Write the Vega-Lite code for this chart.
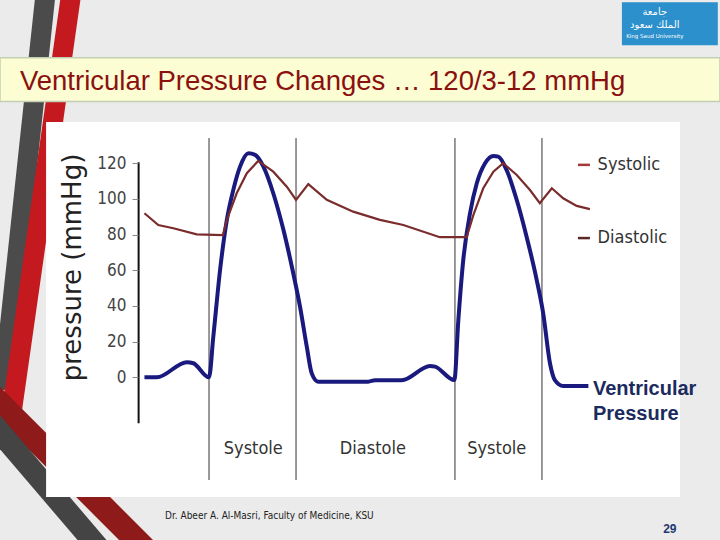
{
  "$schema": "https://vega.github.io/schema/vega-lite/v6.json",
  "width": 542,
  "height": 375,
  "autosize": {"type": "none"},
  "padding": {"left": 138, "right": 40, "top": 122, "bottom": 43},
  "background": "#ebebeb",
  "view": {"stroke": null},
  "config": {
    "axisX": {"disable": true},
    "axisY": {
      "grid": false,
      "domain": false,
      "tickColor": "#888888",
      "tickSize": 6,
      "labelPadding": 6,
      "labelFont": "Liberation Sans Narrow, DejaVu Sans Condensed, sans-serif",
      "labelFontSize": 17,
      "labelColor": "#444444",
      "titleFont": "DejaVu Sans, sans-serif",
      "titleFontSize": 26,
      "titleFontWeight": "normal",
      "titleColor": "#222222",
      "titleAngle": -90,
      "titleX": -66,
      "titleY": 145,
      "titleAlign": "center",
      "titleBaseline": "middle"
    }
  },
  "datasets": {
    "pressure": [
      {"series": "Ventricular", "t": -210, "v": 0},
      {"series": "Ventricular", "t": -170, "v": 0},
      {"series": "Ventricular", "t": -72, "v": 8.5},
      {"series": "Ventricular", "t": -51, "v": 7.9},
      {"series": "Ventricular", "t": 0, "v": 0},
      {"series": "Ventricular", "t": 14, "v": 22.8},
      {"series": "Ventricular", "t": 36, "v": 60.2},
      {"series": "Ventricular", "t": 58, "v": 88.2},
      {"series": "Ventricular", "t": 79, "v": 105},
      {"series": "Ventricular", "t": 101, "v": 118},
      {"series": "Ventricular", "t": 128, "v": 125.5},
      {"series": "Ventricular", "t": 150, "v": 124.6},
      {"series": "Ventricular", "t": 177, "v": 118},
      {"series": "Ventricular", "t": 209, "v": 103.1},
      {"series": "Ventricular", "t": 242, "v": 82.6},
      {"series": "Ventricular", "t": 274, "v": 58.3},
      {"series": "Ventricular", "t": 296, "v": 39.6},
      {"series": "Ventricular", "t": 318, "v": 17.2},
      {"series": "Ventricular", "t": 334, "v": 2.3},
      {"series": "Ventricular", "t": 355, "v": -2.4},
      {"series": "Ventricular", "t": 518, "v": -2.4},
      {"series": "Ventricular", "t": 540, "v": -1.6},
      {"series": "Ventricular", "t": 627, "v": -1.6},
      {"series": "Ventricular", "t": 719, "v": 6.4},
      {"series": "Ventricular", "t": 735, "v": 6.0},
      {"series": "Ventricular", "t": 798, "v": -1.5},
      {"series": "Ventricular", "t": 811, "v": 32.1},
      {"series": "Ventricular", "t": 827, "v": 65.7},
      {"series": "Ventricular", "t": 849, "v": 91.9},
      {"series": "Ventricular", "t": 871, "v": 108.7},
      {"series": "Ventricular", "t": 898, "v": 119.9},
      {"series": "Ventricular", "t": 925, "v": 124},
      {"series": "Ventricular", "t": 941, "v": 123.6},
      {"series": "Ventricular", "t": 968, "v": 116.1},
      {"series": "Ventricular", "t": 1001, "v": 99.3},
      {"series": "Ventricular", "t": 1033, "v": 78.8},
      {"series": "Ventricular", "t": 1066, "v": 54.5},
      {"series": "Ventricular", "t": 1087, "v": 35.9},
      {"series": "Ventricular", "t": 1109, "v": 7.9},
      {"series": "Ventricular", "t": 1125, "v": -1.5},
      {"series": "Ventricular", "t": 1152, "v": -4.8},
      {"series": "Ventricular", "t": 1234, "v": -4.8},
      {"series": "Aortic", "t": -210, "v": 91.9},
      {"series": "Aortic", "t": -165, "v": 85.3},
      {"series": "Aortic", "t": -116, "v": 83.5},
      {"series": "Aortic", "t": -40, "v": 80.1},
      {"series": "Aortic", "t": 45, "v": 79.7},
      {"series": "Aortic", "t": 58, "v": 88.2},
      {"series": "Aortic", "t": 90, "v": 103.1},
      {"series": "Aortic", "t": 123, "v": 114.3},
      {"series": "Aortic", "t": 160, "v": 121.2},
      {"series": "Aortic", "t": 209, "v": 115.2},
      {"series": "Aortic", "t": 253, "v": 106.8},
      {"series": "Aortic", "t": 283, "v": 99.4},
      {"series": "Aortic", "t": 323, "v": 108.2},
      {"series": "Aortic", "t": 383, "v": 99.4},
      {"series": "Aortic", "t": 469, "v": 92.8},
      {"series": "Aortic", "t": 556, "v": 88.2},
      {"series": "Aortic", "t": 632, "v": 85.3},
      {"series": "Aortic", "t": 751, "v": 78.5},
      {"series": "Aortic", "t": 838, "v": 78.5},
      {"series": "Aortic", "t": 860, "v": 91},
      {"series": "Aortic", "t": 892, "v": 105.9},
      {"series": "Aortic", "t": 925, "v": 115.2},
      {"series": "Aortic", "t": 957, "v": 119.9},
      {"series": "Aortic", "t": 1001, "v": 113.3},
      {"series": "Aortic", "t": 1044, "v": 104.9},
      {"series": "Aortic", "t": 1076, "v": 97.5},
      {"series": "Aortic", "t": 1115, "v": 105.9},
      {"series": "Aortic", "t": 1152, "v": 100.3},
      {"series": "Aortic", "t": 1196, "v": 96},
      {"series": "Aortic", "t": 1239, "v": 94.2}
    ],
    "phaseLines": [{"t": 0}, {"t": 283}, {"t": 800}, {"t": 1083}],
    "phaseLabels": [
      {"t": 144, "phase": "Systole"},
      {"t": 533, "phase": "Diastole"},
      {"t": 936, "phase": "Systole"}
    ],
    "legendItems": [
      {"item": "Systolic", "v": 119},
      {"item": "Diastolic", "v": 78}
    ],
    "logoArabic": [
      {"label": "جامعة", "v": 204.5},
      {"label": "الملك سعود", "v": 197.5}
    ]
  },
  "layer": [
    {
      "data": {"values": [{}]},
      "mark": {"type": "rule", "color": "#4b4b4b", "strokeWidth": 20},
      "encoding": {
        "x": {"datum": -527, "type": "quantitative", "scale": {"domain": [-231, 1532], "nice": false, "zero": false}},
        "x2": {"datum": -670},
        "y": {"datum": 222.5, "type": "quantitative", "scale": {"domain": [-67, 143], "nice": false, "zero": false}, "axis": {"title": "pressure (mmHg)", "values": [0, 20, 40, 60, 80, 100, 120], "zindex": 1}},
        "y2": {"datum": -7}
      }
    },
    {
      "data": {"values": [{}]},
      "mark": {"type": "rule", "color": "#c41a1f", "strokeWidth": 20},
      "encoding": {
        "x": {"datum": -442, "type": "quantitative", "scale": {"domain": [-231, 1532], "nice": false, "zero": false}},
        "x2": {"datum": -641},
        "y": {"datum": 222.5, "type": "quantitative", "scale": {"domain": [-67, 143], "nice": false, "zero": false}, "axis": {"title": "pressure (mmHg)", "values": [0, 20, 40, 60, 80, 100, 120], "zindex": 1}},
        "y2": {"datum": -18.3}
      }
    },
    {
      "data": {"values": [{}]},
      "mark": {"type": "rule", "color": "#8e1a1a", "strokeWidth": 24},
      "encoding": {
        "x": {"datum": -712, "type": "quantitative", "scale": {"domain": [-231, 1532], "nice": false, "zero": false}},
        "x2": {"datum": -127},
        "y": {"datum": -9.3, "type": "quantitative", "scale": {"domain": [-67, 143], "nice": false, "zero": false}, "axis": {"title": "pressure (mmHg)", "values": [0, 20, 40, 60, 80, 100, 120], "zindex": 1}},
        "y2": {"datum": -110.1}
      }
    },
    {
      "data": {"values": [{}]},
      "mark": {"type": "rule", "color": "#444444", "strokeWidth": 22},
      "encoding": {
        "x": {"datum": -712, "type": "quantitative", "scale": {"domain": [-231, 1532], "nice": false, "zero": false}},
        "x2": {"datum": -322},
        "y": {"datum": -24.3, "type": "quantitative", "scale": {"domain": [-67, 143], "nice": false, "zero": false}, "axis": {"title": "pressure (mmHg)", "values": [0, 20, 40, 60, 80, 100, 120], "zindex": 1}},
        "y2": {"datum": -102.9}
      }
    },
    {
      "data": {"values": [{}]},
      "mark": {"type": "rect", "fill": "#ffffff"},
      "encoding": {
        "x": {"datum": -530, "type": "quantitative", "scale": {"domain": [-231, 1532], "nice": false, "zero": false}},
        "x2": {"datum": 1532},
        "y": {"datum": 143, "type": "quantitative", "scale": {"domain": [-67, 143], "nice": false, "zero": false}, "axis": {"title": "pressure (mmHg)", "values": [0, 20, 40, 60, 80, 100, 120], "zindex": 1}},
        "y2": {"datum": -67}
      }
    },
    {
      "data": {"values": [{}]},
      "mark": {"type": "rect", "fill": "#fcfdd2", "stroke": "#c2cfb5", "strokeWidth": 1.5},
      "encoding": {
        "x": {"datum": -680, "type": "quantitative", "scale": {"domain": [-231, 1532], "nice": false, "zero": false}},
        "x2": {"datum": 1662},
        "y": {"datum": 179, "type": "quantitative", "scale": {"domain": [-67, 143], "nice": false, "zero": false}, "axis": {"title": "pressure (mmHg)", "values": [0, 20, 40, 60, 80, 100, 120], "zindex": 1}},
        "y2": {"datum": 154.5}
      }
    },
    {
      "data": {"values": [{"label": "Ventricular Pressure Changes … 120/3-12 mmHg"}]},
      "mark": {"type": "text", "font": "Liberation Sans, Arial, sans-serif", "fontSize": 27.5, "color": "#8b1010", "align": "left", "baseline": "middle"},
      "encoding": {
        "x": {"datum": -615, "type": "quantitative", "scale": {"domain": [-231, 1532], "nice": false, "zero": false}},
        "y": {"datum": 165.4, "type": "quantitative", "scale": {"domain": [-67, 143], "nice": false, "zero": false}, "axis": {"title": "pressure (mmHg)", "values": [0, 20, 40, 60, 80, 100, 120], "zindex": 1}},
        "text": {"field": "label"}
      }
    },
    {
      "data": {"values": [{}]},
      "mark": {"type": "rect", "fill": "#2b90cc"},
      "encoding": {
        "x": {"datum": 1343, "type": "quantitative", "scale": {"domain": [-231, 1532], "nice": false, "zero": false}},
        "x2": {"datum": 1655},
        "y": {"datum": 210, "type": "quantitative", "scale": {"domain": [-67, 143], "nice": false, "zero": false}, "axis": {"title": "pressure (mmHg)", "values": [0, 20, 40, 60, 80, 100, 120], "zindex": 1}},
        "y2": {"datum": 186}
      }
    },
    {
      "data": {"name": "logoArabic"},
      "mark": {"type": "text", "font": "DejaVu Sans, sans-serif", "fontSize": 10, "color": "#ffffff", "align": "center", "baseline": "middle"},
      "encoding": {
        "x": {"datum": 1450, "type": "quantitative", "scale": {"domain": [-231, 1532], "nice": false, "zero": false}},
        "y": {"field": "v", "type": "quantitative", "scale": {"domain": [-67, 143], "nice": false, "zero": false}, "axis": {"title": "pressure (mmHg)", "values": [0, 20, 40, 60, 80, 100, 120], "zindex": 1}},
        "text": {"field": "label"}
      }
    },
    {
      "data": {"values": [{"label": "King Saud University"}]},
      "mark": {"type": "text", "font": "DejaVu Sans, sans-serif", "fontSize": 5.5, "color": "#ffffff", "align": "center", "baseline": "middle"},
      "encoding": {
        "x": {"datum": 1450, "type": "quantitative", "scale": {"domain": [-231, 1532], "nice": false, "zero": false}},
        "y": {"datum": 191, "type": "quantitative", "scale": {"domain": [-67, 143], "nice": false, "zero": false}, "axis": {"title": "pressure (mmHg)", "values": [0, 20, 40, 60, 80, 100, 120], "zindex": 1}},
        "text": {"field": "label"}
      }
    },
    {
      "data": {"name": "phaseLines"},
      "mark": {"type": "rule", "color": "#333333", "strokeWidth": 1},
      "encoding": {
        "x": {"field": "t", "type": "quantitative", "scale": {"domain": [-231, 1532], "nice": false, "zero": false}},
        "y": {"datum": 134, "type": "quantitative", "scale": {"domain": [-67, 143], "nice": false, "zero": false}, "axis": {"title": "pressure (mmHg)", "values": [0, 20, 40, 60, 80, 100, 120], "zindex": 1}},
        "y2": {"datum": -57.5}
      }
    },
    {
      "data": {"values": [{}]},
      "mark": {"type": "rule", "color": "#111111", "strokeWidth": 2},
      "encoding": {
        "x": {"datum": -229, "type": "quantitative", "scale": {"domain": [-231, 1532], "nice": false, "zero": false}},
        "y": {"datum": 120.5, "type": "quantitative", "scale": {"domain": [-67, 143], "nice": false, "zero": false}, "axis": {"title": "pressure (mmHg)", "values": [0, 20, 40, 60, 80, 100, 120], "zindex": 1}},
        "y2": {"datum": -25.7}
      }
    },
    {
      "data": {"name": "pressure"},
      "transform": [{"filter": "datum.series == 'Ventricular'"}],
      "mark": {"type": "line", "color": "#1a1a7e", "strokeWidth": 4, "interpolate": "monotone"},
      "encoding": {
        "x": {"field": "t", "type": "quantitative", "scale": {"domain": [-231, 1532], "nice": false, "zero": false}},
        "y": {"field": "v", "type": "quantitative", "scale": {"domain": [-67, 143], "nice": false, "zero": false}, "axis": {"title": "pressure (mmHg)", "values": [0, 20, 40, 60, 80, 100, 120], "zindex": 1}}
      }
    },
    {
      "data": {"name": "pressure"},
      "transform": [{"filter": "datum.series == 'Aortic'"}],
      "mark": {"type": "line", "color": "#7a2c2c", "strokeWidth": 2.2},
      "encoding": {
        "x": {"field": "t", "type": "quantitative", "scale": {"domain": [-231, 1532], "nice": false, "zero": false}},
        "y": {"field": "v", "type": "quantitative", "scale": {"domain": [-67, 143], "nice": false, "zero": false}, "axis": {"title": "pressure (mmHg)", "values": [0, 20, 40, 60, 80, 100, 120], "zindex": 1}}
      }
    },
    {
      "data": {"name": "phaseLabels"},
      "mark": {"type": "text", "font": "Liberation Sans Narrow, DejaVu Sans Condensed, sans-serif", "fontSize": 18, "color": "#333333", "align": "center", "baseline": "middle"},
      "encoding": {
        "x": {"field": "t", "type": "quantitative", "scale": {"domain": [-231, 1532], "nice": false, "zero": false}},
        "y": {"datum": -40, "type": "quantitative", "scale": {"domain": [-67, 143], "nice": false, "zero": false}, "axis": {"title": "pressure (mmHg)", "values": [0, 20, 40, 60, 80, 100, 120], "zindex": 1}},
        "text": {"field": "phase"}
      }
    },
    {
      "data": {"name": "legendItems"},
      "mark": {"type": "rule", "strokeWidth": 2.5},
      "encoding": {
        "x": {"datum": 1200, "type": "quantitative", "scale": {"domain": [-231, 1532], "nice": false, "zero": false}},
        "x2": {"datum": 1239},
        "y": {"field": "v", "type": "quantitative", "scale": {"domain": [-67, 143], "nice": false, "zero": false}, "axis": {"title": "pressure (mmHg)", "values": [0, 20, 40, 60, 80, 100, 120], "zindex": 1}},
        "color": {"field": "item", "type": "nominal", "scale": {"domain": ["Systolic", "Diastolic"], "range": ["#a33a3a", "#5c2727"]}, "legend": null}
      }
    },
    {
      "data": {"name": "legendItems"},
      "mark": {"type": "text", "font": "Liberation Sans Narrow, DejaVu Sans Condensed, sans-serif", "fontSize": 18, "color": "#333333", "align": "left", "baseline": "middle"},
      "encoding": {
        "x": {"datum": 1264, "type": "quantitative", "scale": {"domain": [-231, 1532], "nice": false, "zero": false}},
        "y": {"field": "v", "type": "quantitative", "scale": {"domain": [-67, 143], "nice": false, "zero": false}, "axis": {"title": "pressure (mmHg)", "values": [0, 20, 40, 60, 80, 100, 120], "zindex": 1}},
        "text": {"field": "item"}
      }
    },
    {
      "data": {"values": [{"label": "Ventricular\nPressure"}]},
      "mark": {"type": "text", "font": "Liberation Sans, Arial, sans-serif", "fontSize": 20, "fontWeight": "bold", "color": "#1b2b5e", "align": "left", "baseline": "middle", "lineBreak": "\n", "lineHeight": 25},
      "encoding": {
        "x": {"datum": 1249, "type": "quantitative", "scale": {"domain": [-231, 1532], "nice": false, "zero": false}},
        "y": {"datum": -6.5, "type": "quantitative", "scale": {"domain": [-67, 143], "nice": false, "zero": false}, "axis": {"title": "pressure (mmHg)", "values": [0, 20, 40, 60, 80, 100, 120], "zindex": 1}},
        "text": {"field": "label"}
      }
    },
    {
      "data": {"values": [{"label": "Dr. Abeer A. Al-Masri, Faculty of Medicine,  KSU"}]},
      "mark": {"type": "text", "font": "Liberation Sans Narrow, DejaVu Sans Condensed, sans-serif", "fontSize": 10, "color": "#222222", "align": "left", "baseline": "middle"},
      "encoding": {
        "x": {"datum": -143, "type": "quantitative", "scale": {"domain": [-231, 1532], "nice": false, "zero": false}},
        "y": {"datum": -77.6, "type": "quantitative", "scale": {"domain": [-67, 143], "nice": false, "zero": false}, "axis": {"title": "pressure (mmHg)", "values": [0, 20, 40, 60, 80, 100, 120], "zindex": 1}},
        "text": {"field": "label"}
      }
    },
    {
      "data": {"values": [{"label": "29"}]},
      "mark": {"type": "text", "font": "Liberation Sans, Arial, sans-serif", "fontSize": 12, "fontWeight": "bold", "color": "#1f3a70", "align": "center", "baseline": "middle"},
      "encoding": {
        "x": {"datum": 1499, "type": "quantitative", "scale": {"domain": [-231, 1532], "nice": false, "zero": false}},
        "y": {"datum": -85, "type": "quantitative", "scale": {"domain": [-67, 143], "nice": false, "zero": false}, "axis": {"title": "pressure (mmHg)", "values": [0, 20, 40, 60, 80, 100, 120], "zindex": 1}},
        "text": {"field": "label"}
      }
    }
  ]
}
